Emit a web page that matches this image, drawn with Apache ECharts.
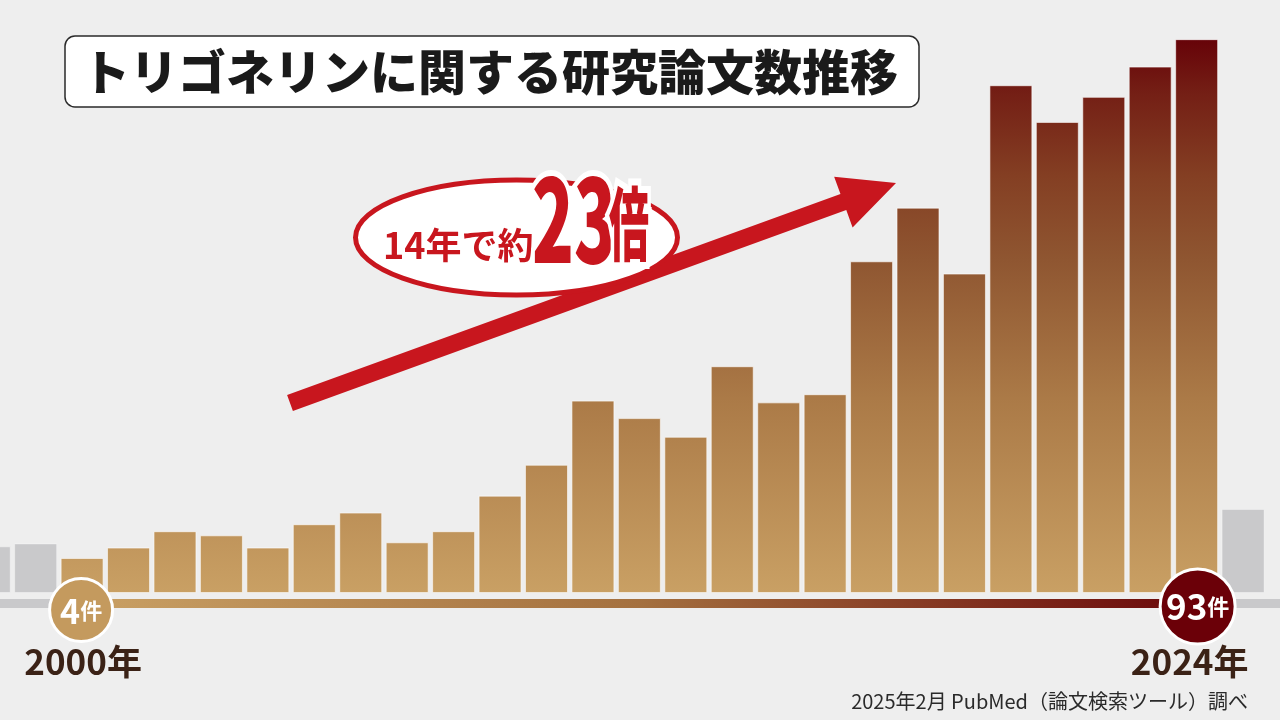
<!DOCTYPE html>
<html lang="ja">
<head>
<meta charset="utf-8">
<title>トリゴネリンに関する研究論文数推移</title>
<script src="https://cdn.jsdelivr.net/npm/echarts@6/dist/echarts.min.js"></script>
<style>
  html, body { margin: 0; padding: 0; background: #eeeeee; }
  #chart { width: 1280px; height: 720px; }
</style>
</head>
<body>
<div id="chart"></div>
<script>
// 年（前後のグレーは参考の年）
const years = ['1998', '1999', '2000', '2001', '2002', '2003', '2004', '2005', '2006', '2007',
  '2008', '2009', '2010', '2011', '2012', '2013', '2014', '2015', '2016', '2017',
  '2018', '2019', '2020', '2021', '2022', '2023', '2024', '2025']
const grayBefore = [6, 6.5]       // 1998, 1999
// 2000 〜 2024 の論文数
const counts = [4, 5.8, 8.6, 7.9, 5.8, 9.8, 11.8, 6.7, 8.6, 14.7,
  20, 31, 28, 24.8, 36.9, 30.7, 32.1, 54.9, 64.1, 52.8,
  85.1, 78.8, 83.1, 88.3, 93]
const grayAfter = [12.4]          // 2025
const startLabel = ['4', '件']
const endLabel = ['93', '件']

const FONT = '"Noto Sans CJK JP", "Noto Sans", sans-serif'
const GRAY = '#c9c9cb'
const RED = '#c8161e'

const chart = echarts.init(document.getElementById('chart'))

const barColor = new echarts.graphic.LinearGradient(0, 593, 0, 38, [
  { offset: 0, color: '#c9a064' },
  { offset: 0.35, color: '#ab7a47' },
  { offset: 0.6, color: '#8f5631' },
  { offset: 0.75, color: '#843f23' },
  { offset: 0.9, color: '#741f15' },
  { offset: 1, color: '#660208' }
], true)

const grayItem = v => ({ value: v, itemStyle: { color: GRAY } })
const barData = [...grayBefore.map(grayItem), ...counts, ...grayAfter.map(grayItem)]

chart.setOption({
  backgroundColor: '#eeeeee',
  animation: false,
  grid: { left: -34, right: 13.7, top: 10, bottom: 127, outerBoundsMode: 'none', containLabel: false },
  xAxis: {
    type: 'category',
    data: years,
    axisLine: { show: false },
    axisTick: { show: false },
    axisLabel: { show: false }
  },
  yAxis: {
    type: 'value',
    min: -2,
    max: 98,
    startValue: -2,
    show: false,
    splitLine: { show: false }
  },
  series: [{
    type: 'bar',
    data: barData,
    barWidth: 43,
    clip: false,
    itemStyle: {
      color: barColor,
      borderColor: 'rgba(255,255,255,0.35)',
      borderWidth: 1
    }
  }]
})

// 注釈の位置は軸から取る
const x2000 = chart.convertToPixel({ xAxisIndex: 0 }, '2000')
const x2024 = chart.convertToPixel({ xAxisIndex: 0 }, '2024')
const yBase = chart.convertToPixel({ yAxisIndex: 0 }, -2)
const lineY = yBase + 6

// 矢印
const T = [290, 403], P = [896, 183]
const len = Math.hypot(P[0] - T[0], P[1] - T[1])
const u = [(P[0] - T[0]) / len, (P[1] - T[1]) / len]
const n = [-u[1], u[0]]
const headLen = 56, headHalf = 27, shaftHalf = 8.5
const B = [P[0] - headLen * u[0], P[1] - headLen * u[1]]
const pt = (c, k) => [c[0] + k * n[0], c[1] + k * n[1]]
const arrowPoints = [pt(T, shaftHalf), pt(B, shaftHalf), pt(B, headHalf), P,
  pt(B, -headHalf), pt(B, -shaftHalf), pt(T, -shaftHalf)]

chart.setOption({
  graphic: [
    // 基準線
    { type: 'rect', z: 5, shape: { x: 0, y: lineY, width: 1280, height: 9 }, style: { fill: '#c9c9cb' } },
    {
      type: 'rect', z: 6,
      shape: { x: x2000, y: lineY, width: x2024 - x2000, height: 9 },
      style: {
        fill: new echarts.graphic.LinearGradient(0, 0, 1, 0, [
          { offset: 0, color: '#c9a064' },
          { offset: 0.5, color: '#a4703f' },
          { offset: 1, color: '#6a070a' }
        ])
      }
    },
    // 件数の丸
    {
      type: 'circle', z: 10,
      shape: { cx: x2000 - 1, cy: 610, r: 31.5 },
      style: { fill: '#c49a5e', stroke: '#ffffff', lineWidth: 3 }
    },
    {
      type: 'text', z: 11, x: x2000 - 1, y: 611,
      style: {
        text: `{a|${startLabel[0]}}{b|${startLabel[1]}}`,
        align: 'center', verticalAlign: 'middle',
        rich: {
          a: { fontFamily: FONT, fontSize: 34, fontWeight: 'bold', fill: '#fff' },
          b: { fontFamily: FONT, fontSize: 22, fontWeight: 'bold', fill: '#fff' }
        }
      }
    },
    {
      type: 'circle', z: 10,
      shape: { cx: x2024 + 1, cy: 606.5, r: 37.5 },
      style: { fill: '#6b0008', stroke: '#ffffff', lineWidth: 3 }
    },
    {
      type: 'text', z: 11, x: x2024 + 1, y: 607,
      style: {
        text: `{a|${endLabel[0]}}{b|${endLabel[1]}}`,
        align: 'center', verticalAlign: 'middle',
        rich: {
          a: { fontFamily: FONT, fontSize: 35, fontWeight: 'bold', fill: '#fff' },
          b: { fontFamily: FONT, fontSize: 22, fontWeight: 'bold', fill: '#fff' }
        }
      }
    },
    // 年
    {
      type: 'text', z: 11, x: x2000 + 1, y: 662,
      style: { text: '2000年', font: `bold 35px ${FONT}`, fill: '#3b2216', align: 'center', verticalAlign: 'middle' }
    },
    {
      type: 'text', z: 11, x: x2024 - 7, y: 662,
      style: { text: '2024年', font: `bold 35px ${FONT}`, fill: '#3b2216', align: 'center', verticalAlign: 'middle' }
    },
    // 出典
    {
      type: 'text', z: 11, x: 1248, y: 701,
      style: { text: '2025年2月 PubMed（論文検索ツール）調べ', font: `20px ${FONT}`, fill: '#2a2a2a', align: 'right', verticalAlign: 'middle' }
    },
    // タイトル
    {
      type: 'rect', z: 20,
      shape: { x: 65, y: 36, width: 854, height: 71, r: 10 },
      style: { fill: '#ffffff', stroke: '#2a2a2a', lineWidth: 1.5 }
    },
    {
      type: 'text', z: 21, x: 490, y: 72,
      style: { text: 'トリゴネリンに関する研究論文数推移', font: `900 48px ${FONT}`, fill: '#1a1a1a', align: 'center', verticalAlign: 'middle' }
    },
    // 矢印と吹き出し
    { type: 'polygon', z: 30, shape: { points: arrowPoints }, style: { fill: RED } },
    {
      type: 'ellipse', z: 31,
      shape: { cx: 516.5, cy: 237.5, rx: 161, ry: 57.5 },
      style: { fill: '#ffffff', stroke: RED, lineWidth: 5 }
    },
    {
      type: 'text', z: 32, x: 383, y: 245,
      style: { text: '14年で約', font: `bold 36px ${FONT}`, fill: RED, align: 'left', verticalAlign: 'middle' }
    },
    {
      type: 'text', z: 32, x: 532, y: 219, scaleX: 0.6,
      style: {
        text: '23', font: `900 115px ${FONT}`, fill: RED, align: 'left', verticalAlign: 'middle',
        stroke: '#ffffff', lineWidth: 12, strokeFirst: true
      }
    },
    {
      type: 'text', z: 32, x: 609, y: 224, scaleX: 0.5,
      style: {
        text: '倍', font: `900 80px ${FONT}`, fill: RED, align: 'left', verticalAlign: 'middle',
        stroke: '#ffffff', lineWidth: 14, strokeFirst: true
      }
    }
  ]
})

window.addEventListener('resize', () => {
  chart && chart.resize()
})
</script>
</body>
</html>
